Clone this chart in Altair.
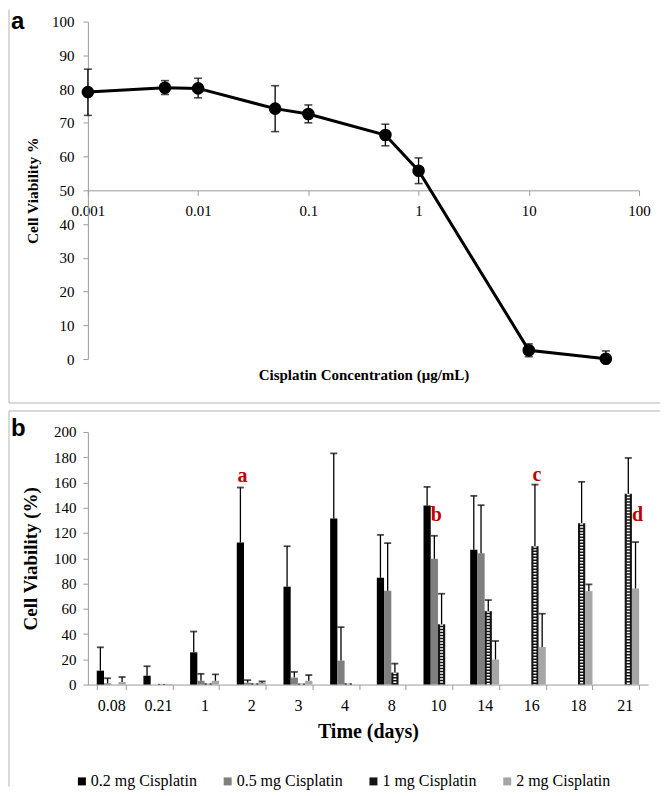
import altair as alt
import pandas as pd

SERIF = "Liberation Serif"
SANS = "Liberation Sans"
AXIS_GRAY = "#9b9b9b"
FRAME_GRAY = "#b4b4b4"

# ---------------- panel a data ----------------
conc = [0.001, 0.005, 0.01, 0.05, 0.1, 0.5, 1, 10, 50]
viab = [79.1, 80.4, 80.2, 74.2, 72.6, 66.4, 55.8, 2.6, 0.1]
viab_hi = [85.9, 82.5, 83.2, 81.0, 75.3, 69.6, 59.6, 4.5, 2.4]
viab_lo = [72.2, 78.4, 77.4, 67.4, 70.0, 63.2, 52.0, 0.7, 0.1]
a_xticks = [0.001, 0.01, 0.1, 1, 10, 100]
a_yticks = [0, 10, 20, 30, 40, 50, 60, 70, 80, 90, 100]

# ---------------- panel b data ----------------
times = ["0.08", "0.21", "1", "2", "3", "4", "8", "10", "14", "16", "18", "21"]
series = ["0.2 mg Cisplatin", "0.5 mg Cisplatin", "1 mg Cisplatin", "2 mg Cisplatin"]
series_colors = ["#000000", "#7f7f7f", "#151515", "#a6a6a6"]
val_02 = [11, 7, 25.5, 112.5, 77.5, 131.5, 84.5, 141.7, 106.7, 0, 0, 0]
top_02 = [29.5, 14.5, 42, 156, 109.5, 183, 118.5, 156.5, 149.4, None, None, None]
val_05 = [1, 0, 3, 1.5, 5.5, 19, 74.3, 99.6, 104, 0, 0, 0]
top_05 = [5, None, 8.5, 3.5, 10, 45.5, 112, 117.8, 142, None, None, None]
val_1 = [0, 0.5, 1, 1, 0.8, 1, 9.5, 47.7, 58.1, 109.6, 127.8, 151]
top_1 = [None, None, None, None, None, None, 16.6, 71.9, 66.9, 158.3, 160.5, 179.4]
val_2 = [2, 0.5, 3, 1.5, 3, 0, 0, 0, 19.8, 29.8, 74, 76.1]
top_2 = [6, None, 8, 2.5, 7.5, None, None, None, 34.5, 56.1, 79.3, 112.8]
b_yticks = [0, 20, 40, 60, 80, 100, 120, 140, 160, 180, 200]

letters = ["a", "b", "c", "d"]
letter_time = ["2", "10", "16", "21"]
letter_series = ["0.2 mg Cisplatin", "0.5 mg Cisplatin", "1 mg Cisplatin", "2 mg Cisplatin"]
letter_y = [165, 134, 166, 134]

# ---------------- sizes ----------------
W_A, H_A = 552, 338
W_B, H_B = 561, 253

one = pd.DataFrame({"k": [0]})

# ================= panel a =================
da = pd.DataFrame({"conc": conc, "v": viab, "lo": viab_lo, "hi": viab_hi})

xa_scale = alt.Scale(type="log", domain=[0.001, 100], nice=False)
ya_scale = alt.Scale(domain=[0, 100], nice=False)
xa_axis = alt.Axis(
    values=a_xticks, format="~g", offset=-H_A / 2,
    title="Cisplatin Concentration (μg/mL)", titleX=W_A / 2, titleY=H_A / 2 + 15,
    titleBaseline="middle", titleAlign="center", titleAngle=0,
    titleFont=SERIF, titleFontSize=15, titleFontWeight="bold", titleColor="black",
    labelFont=SERIF, labelFontSize=15, labelColor="black", labelPadding=8,
    labelFlush=False, tickSize=5, tickColor=AXIS_GRAY, domainColor=AXIS_GRAY,
    grid=False,
)
ya_axis = alt.Axis(
    values=a_yticks, title="Cell Viability %",
    titleFont=SERIF, titleFontSize=15.5, titleFontWeight="bold", titleColor="black",
    titlePadding=11, labelFont=SERIF, labelFontSize=15, labelColor="black",
    labelPadding=9, tickSize=5, tickColor=AXIS_GRAY, domainColor=AXIS_GRAY,
    grid=False,
)
ex = alt.X("conc:Q", scale=xa_scale, axis=xa_axis)


def ya(field):
    return alt.Y(field, scale=ya_scale, axis=ya_axis)


base_a = alt.Chart(da)
line_a = base_a.mark_line(color="black", strokeWidth=3).encode(x=ex, y=ya("v:Q"))
err_a = base_a.mark_rule(color="black", strokeWidth=1.3).encode(x=ex, y=ya("lo:Q"), y2="hi:Q")
cap_lo = base_a.mark_tick(orient="horizontal", size=8, thickness=1.6, color="black").encode(x=ex, y=ya("lo:Q"))
cap_hi = base_a.mark_tick(orient="horizontal", size=8, thickness=1.6, color="black").encode(x=ex, y=ya("hi:Q"))
pts_a = base_a.mark_circle(size=160, color="black", opacity=1).encode(x=ex, y=ya("v:Q"))

frame_a_left = alt.Chart(one).mark_rule(color=FRAME_GRAY, strokeWidth=1).encode(
    x=alt.value(-79), y=alt.value(-12), y2=alt.value(382))
frame_a_bottom = alt.Chart(one).mark_rule(color=FRAME_GRAY, strokeWidth=1).encode(
    x=alt.value(-79), x2=alt.value(573), y=alt.value(382))
label_a = alt.Chart(one).mark_text(
    text="a", font=SANS, fontWeight="bold", fontSize=24, align="left",
    baseline="alphabetic", color="black").encode(x=alt.value(-77), y=alt.value(7))

chart_a = alt.layer(
    frame_a_left, frame_a_bottom, label_a, line_a, err_a, cap_lo, cap_hi, pts_a
).properties(width=W_A, height=H_A)

# ================= panel b =================
vals = [val_02, val_05, val_1, val_2]
tops = [top_02, top_05, top_1, top_2]
rows = []
for s, vv, tt in zip(series, vals, tops):
    for t, v, tp in zip(times, vv, tt):
        rows.append({"time": t, "series": s, "value": v, "top": tp})
db = pd.DataFrame(rows)
dl = pd.DataFrame({"time": letter_time, "series": letter_series, "y": letter_y, "letter": letters})

xb_axis = alt.Axis(
    title="Time (days)", labelAngle=0, tickBand="extent",
    titleFont=SERIF, titleFontSize=20, titleFontWeight="bold", titleColor="black",
    titlePadding=8, labelFont=SERIF, labelFontSize=16, labelColor="black",
    labelPadding=8, tickSize=5, tickColor=AXIS_GRAY, domainColor=AXIS_GRAY,
    grid=False,
)
yb_scale = alt.Scale(domain=[0, 200], nice=False)
yb_axis = alt.Axis(
    values=b_yticks, title="Cell Viability (%)",
    titleFont=SERIF, titleFontSize=19, titleFontWeight="bold", titleColor="black",
    titlePadding=13, labelFont=SERIF, labelFontSize=15, labelColor="black",
    labelPadding=7, tickSize=5, tickColor=AXIS_GRAY, domainColor=AXIS_GRAY,
    grid=False,
)
xb = alt.X("time:N", sort=times, scale=alt.Scale(paddingInner=0.38, paddingOuter=0.19), axis=xb_axis)
xob = alt.XOffset("series:N", sort=series, scale=alt.Scale(paddingInner=0, paddingOuter=0))


def yb(field):
    return alt.Y(field, scale=yb_scale, axis=yb_axis)


base_b = alt.Chart(db)
bars = base_b.mark_bar().encode(
    x=xb, xOffset=xob, y=yb("value:Q"),
    color=alt.Color(
        "series:N", sort=series,
        scale=alt.Scale(domain=series, range=series_colors),
        legend=alt.Legend(
            orient="none", legendX=-14, legendY=753, direction="horizontal",
            title=None, symbolType="square", symbolSize=64, symbolStrokeWidth=0,
            labelFont=SERIF, labelFontSize=16, labelColor="black",
            columnPadding=22, labelOffset=1,
        ),
    ),
)
dots = base_b.transform_filter(alt.datum.series == "1 mg Cisplatin").mark_rule(
    color="white", strokeWidth=3, strokeDash=[1.5, 1.5]
).encode(x=xb, xOffset=xob, y=yb("value:Q"), y2=alt.datum(0))
err_b = base_b.transform_filter("isValid(datum.top)").mark_rule(
    color="black", strokeWidth=1.3
).encode(x=xb, xOffset=xob, y=yb("value:Q"), y2="top:Q")
cap_b = base_b.transform_filter("isValid(datum.top)").mark_tick(
    orient="horizontal", size=7, thickness=1.8, color="black"
).encode(x=xb, xOffset=xob, y=yb("top:Q"))
letters_b = alt.Chart(dl).mark_text(
    font=SERIF, fontWeight="bold", fontSize=20, color="#c00000", baseline="middle", dx=2
).encode(x=xb, xOffset=xob, y=yb("y:Q"), text="letter:N")

frame_b_top = alt.Chart(one).mark_rule(color=FRAME_GRAY, strokeWidth=1).encode(
    x=alt.value(-79), x2=alt.value(573), y=alt.value(-21))
frame_b_left = alt.Chart(one).mark_rule(color=FRAME_GRAY, strokeWidth=1).encode(
    x=alt.value(-79), y=alt.value(-21), y2=alt.value(355))
label_b = alt.Chart(one).mark_text(
    text="b", font=SANS, fontWeight="bold", fontSize=24, align="left",
    baseline="alphabetic", color="black").encode(x=alt.value(-77), y=alt.value(4))

chart_b = alt.layer(
    frame_b_top, frame_b_left, label_b, bars, dots, err_b, cap_b, letters_b
).properties(width=W_B, height=H_B)

chart = alt.vconcat(chart_a, chart_b, spacing=6).properties(padding=0).configure_view(stroke=None)

chart.save("out.html", embed_options={"renderer": "svg", "actions": False})
